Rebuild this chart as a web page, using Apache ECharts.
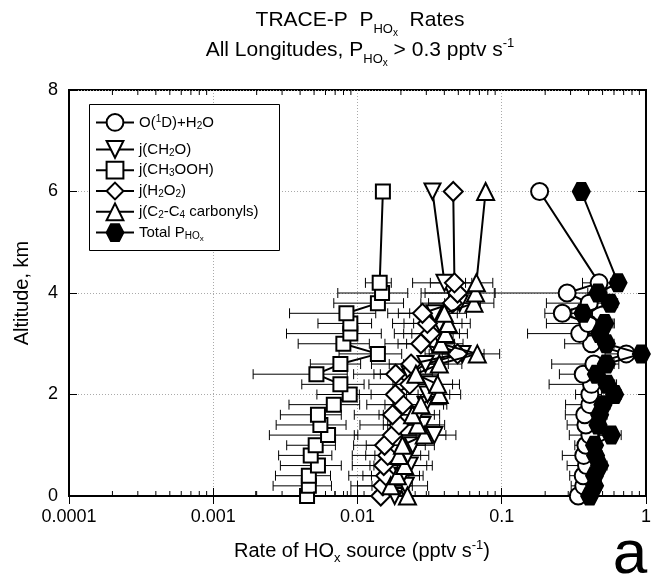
<!DOCTYPE html>
<html><head><meta charset="utf-8">
<script src="https://cdn.jsdelivr.net/npm/echarts@6/dist/echarts.min.js"></script>
<style>html,body{margin:0;padding:0;background:#fff}#c{width:654px;height:574px}</style>
</head><body><div id="c"></div>
<script>
// ---- data (altitude in km, rates in pptv/s) ----
const altitudes = [0,0.2,0.4,0.6,0.8,1.0,1.2,1.4,1.6,1.8,2.0,2.2,2.4,2.6,2.8,3.0,3.2,3.4,3.6,3.8,4.0,4.2,6];
const o1dH2O   = [0.339,0.370,0.367,0.387,0.370,0.383,0.408,0.383,0.376,0.408,0.408,0.419,0.367,0.435,0.730,0.419,0.347,0.397,0.263,0.404,0.284,0.473,0.183];
const o1dH2OSd = [0.050,0.067,0.071,0.103,0.107,0.062,0.114,0.099,0.100,0.131,0.083,0.206,0.116,0.213,0.210,0.146,0.196,0.193,0.064,0.200,0.194,0.110,0];
const jCH2O    = [0.0181,0.0216,0.0205,0.0230,0.0222,0.0241,0.0341,0.0282,0.0261,0.0296,0.0306,0.0316,0.0230,0.0296,0.0534,0.0331,0.0359,0.0370,0.0342,0.0511,0.0456,0.0401,0.0331];
const jCH2OSd  = [0.007,0.009,0.008,0.010,0.009,0.010,0.014,0.012,0.011,0.012,0.013,0.014,0.010,0.013,0.022,0.014,0.015,0.016,0.015,0.020,0.018,0.016,0];
const jCH3OOH  = [0.00447,0.00460,0.00460,0.00532,0.00474,0.00513,0.00625,0.00553,0.00532,0.00685,0.00883,0.00761,0.00519,0.00761,0.01385,0.00798,0.00892,0.00892,0.00838,0.01385,0.0148,0.01425,0.0150];
const jCH3OOHSd= [0.0025,0.0020,0.0019,0.0024,0.0019,0.0019,0.0038,0.0028,0.0024,0.0035,0.0036,0.0035,0.0033,0.0029,0.0064,0.0041,0.0057,0.0036,0.0050,0.0070,0.0075,0.0029,0];
const jH2O2    = [0.0145,0.0150,0.0157,0.0152,0.0162,0.0154,0.0175,0.0194,0.0175,0.0206,0.0183,0.0230,0.0184,0.0235,0.0494,0.0275,0.0320,0.0305,0.0282,0.0455,0.0494,0.0470,0.0461];
const jH2O2Sd  = [0.006,0.006,0.007,0.006,0.007,0.006,0.008,0.009,0.008,0.009,0.008,0.011,0.009,0.011,0.020,0.012,0.014,0.013,0.012,0.018,0.020,0.015,0];
const jCarb    = [0.0222,0.0170,0.0189,0.0212,0.0194,0.0205,0.0290,0.0261,0.0241,0.0275,0.0369,0.0359,0.0254,0.0369,0.0677,0.0379,0.0408,0.0425,0.0400,0.0642,0.0658,0.0667,0.0773];
const jCarbSd  = [0.009,0.007,0.008,0.009,0.008,0.009,0.012,0.011,0.010,0.012,0.015,0.015,0.011,0.016,0.029,0.016,0.017,0.018,0.017,0.024,0.023,0.020,0];
const totalP   = [0.407,0.440,0.440,0.477,0.447,0.440,0.575,0.465,0.477,0.503,0.606,0.537,0.453,0.531,0.928,0.531,0.477,0.517,0.366,0.566,0.465,0.640,0.356];
const totalPSd = [0.05,0.05,0.05,0.06,0.05,0.05,0.098,0.06,0.06,0.06,0.07,0.07,0.06,0.07,0.08,0.07,0.07,0.086,0.06,0.07,0.07,0.07,0];
const xTickLabels = ['0.0001','0.001','0.01','0.1','1'];
const yTickLabels = ['0','2','4','6','8'];

const FONT = "'Liberation Sans', Arial, Helvetica, sans-serif";
const chart = echarts.init(document.getElementById('c'), null, {renderer:'canvas'});

const HEX = 'path://M0,5 L2.6,0 L7.4,0 L10,5 L7.4,10 L2.6,10 Z';
const DIAM = 'path://M5,0 L10,5 L5,10 L0,5 Z';
const DOWN = 'path://M0,0 L10,0 L5,9 Z';
const UP = 'path://M5,0 L10,9 L0,9 Z';

const defs = [
  {name:'o1d', vals:o1dH2O, sd:o1dH2OSd, symbol:'circle', size:17, fill:'#fff',
   label:'O({sup|1}D)+H{sub|2}O'},
  {name:'ch2o', vals:jCH2O, sd:jCH2OSd, symbol:DOWN, size:16, fill:'#fff',
   label:'j(CH{sub|2}O)'},
  {name:'ch3ooh', vals:jCH3OOH, sd:jCH3OOHSd, symbol:'rect', size:14, fill:'#fff',
   label:'j(CH{sub|3}OOH)'},
  {name:'h2o2', vals:jH2O2, sd:jH2O2Sd, symbol:DIAM, size:19, fill:'#fff',
   label:'j(H{sub|2}O{sub|2})'},
  {name:'carb', vals:jCarb, sd:jCarbSd, symbol:UP, size:17, fill:'#fff',
   label:'j(C{sub|2}-C{sub|4} carbonyls)'},
  {name:'total', vals:totalP, sd:totalPSd, symbol:HEX, size:17, fill:'#000',
   label:'Total P{sub|HO}{sub2|x}'}
];

const minorTicks = [];
for (let e = -4; e < 0; e++) for (let m = 2; m <= 9; m++) minorTicks.push(m * Math.pow(10, e));

const series = [];
// error bars
defs.forEach((d, k) => {
  const data = [];
  altitudes.forEach((a, i) => {
    if (d.sd[i] > 0) data.push([Math.max(d.vals[i] - d.sd[i], 1.01e-4), Math.min(d.vals[i] + d.sd[i], 1), a]);
  });
  series.push({
    type:'custom', z:1, silent:true, clip:true,
    encode:{x:[0,1], y:2},
    data,
    renderItem:(params, api) => {
      const p1 = api.coord([api.value(0), api.value(2)]);
      const p2 = api.coord([api.value(1), api.value(2)]);
      const h = 5;
      const st = {stroke:'#000', lineWidth:1};
      return {type:'group', children:[
        {type:'line', shape:{x1:p1[0], y1:p1[1], x2:p2[0], y2:p2[1]}, style:st},
        {type:'line', shape:{x1:p1[0], y1:p1[1]-h, x2:p1[0], y2:p1[1]+h}, style:st},
        {type:'line', shape:{x1:p2[0], y1:p2[1]-h, x2:p2[0], y2:p2[1]+h}, style:st}
      ]};
    }
  });
});
// profiles
defs.forEach((d, k) => {
  series.push({
    name:d.name, type:'line', z:3 + k,
    data: altitudes.map((a, i) => [d.vals[i], a]),
    symbol:d.symbol, symbolSize:d.size, showSymbol:true,
    lineStyle:{color:'#000', width:2},
    itemStyle:{color:d.fill, borderColor:'#000', borderWidth:2},
    emphasis:{disabled:true}, animation:false
  });
});
// log minor ticks (bottom and top)
series.push({
  type:'custom', z:10, silent:true,
  data: minorTicks.map(v => [v, 0]),
  encode:{x:0, y:1},
  renderItem:(params, api) => {
    const b = api.coord([api.value(0), 0]);
    const t = api.coord([api.value(0), 8]);
    const st = {stroke:'#000', lineWidth:1};
    return {type:'group', children:[
      {type:'line', shape:{x1:b[0], y1:b[1], x2:b[0], y2:b[1]-5}, style:st},
      {type:'line', shape:{x1:t[0], y1:t[1], x2:t[0], y2:t[1]+5}, style:st}
    ]};
  }
});

const labelMap = {};
defs.forEach(d => labelMap[d.name] = d.label);

const subTok = (fs, pad) => ({fontSize:fs, fontFamily:FONT, fill:'#000', padding:pad});
const legendText = {fontSize:15, fontFamily:FONT, color:'#000',
  rich:{ sub:{fontSize:10, fontFamily:FONT, padding:[7,0,0,0]},
         sub2:{fontSize:8, fontFamily:FONT, padding:[12,0,0,0]},
         sup:{fontSize:10, fontFamily:FONT, padding:[0,0,7,0]} }};
const legendBase = {orient:'vertical', left:95, padding:0, itemWidth:38, itemHeight:21,
  z:6, selectedMode:false, formatter:n => labelMap[n], textStyle:legendText};

const option = {
  animation:false,
  backgroundColor:'#fff',
  textStyle:{fontFamily:FONT},
  grid:{left:69, right:4, top:90, bottom:78, show:true, borderColor:'#000', borderWidth:2},
  xAxis:[{
    type:'log', logBase:10, min:0.0001, max:1,
    axisLine:{lineStyle:{color:'#000', width:2}},
    axisTick:{inside:true, length:8, lineStyle:{color:'#000', width:1}},
    axisLabel:{color:'#000', fontSize:18, fontFamily:FONT, margin:12,
      formatter:v => xTickLabels[Math.round(Math.log10(v)) + 4]},
    splitLine:{show:true, lineStyle:{color:'#aaa', type:[1,2], width:1}}
  },{
    type:'log', logBase:10, min:0.0001, max:1, position:'top',
    axisLine:{lineStyle:{color:'#000', width:2}},
    axisTick:{inside:true, length:8, lineStyle:{color:'#000', width:1}},
    axisLabel:{show:false}, splitLine:{show:false}
  }],
  yAxis:[{
    type:'value', min:0, max:8, interval:2,
    axisLine:{show:true, lineStyle:{color:'#000', width:2}},
    axisTick:{show:true, inside:true, length:8, lineStyle:{color:'#000', width:1}},
    axisLabel:{color:'#000', fontSize:18, fontFamily:FONT, margin:11,
      formatter:v => yTickLabels[Math.round(v / 2)]},
    splitLine:{show:true, lineStyle:{color:'#aaa', type:[1,2], width:1}}
  },{
    type:'value', min:0, max:8, interval:2, position:'right',
    axisLine:{show:true, lineStyle:{color:'#000', width:2}},
    axisTick:{show:true, inside:true, length:8, lineStyle:{color:'#000', width:1}},
    axisLabel:{show:false}, splitLine:{show:false}
  }],
  legend:[
    Object.assign({}, legendBase, {top:113, itemGap:2, data:['o1d']}),
    Object.assign({}, legendBase, {top:140, itemGap:2, data:['ch2o','ch3ooh','h2o2','carb','total']})
  ],
  graphic:[
    {type:'rect', z:5, shape:{x:89.5, y:104.5, width:190, height:146},
      style:{fill:'#fff', stroke:'#000', lineWidth:1}},
    {type:'text', x:360, y:20, style:{
      text:'TRACE-P  P{s1|HO}{s2|x}  Rates', fontSize:21, fontFamily:FONT, fill:'#000',
      align:'center', verticalAlign:'middle',
      rich:{s1:subTok(13,[18,0,0,0]), s2:subTok(10,[26,0,0,0])}}},
    {type:'text', x:360, y:50, style:{
      text:'All Longitudes, P{s1|HO}{s2|x} > 0.3 pptv s{sp|-1}', fontSize:21, fontFamily:FONT, fill:'#000',
      align:'center', verticalAlign:'middle',
      rich:{s1:subTok(13,[18,0,0,0]), s2:subTok(10,[26,0,0,0]), sp:subTok(13,[0,0,14,0])}}},
    {type:'text', x:362, y:551, style:{
      text:'Rate of HO{s1|x} source (pptv s{sp|-1})', fontSize:20, fontFamily:FONT, fill:'#000',
      align:'center', verticalAlign:'middle',
      rich:{s1:subTok(13,[14,0,0,0]), sp:subTok(13,[0,0,12,0])}}},
    {type:'text', x:22, y:293, rotation:Math.PI/2, style:{
      text:'Altitude, km', fontSize:20, fontFamily:FONT, fill:'#000',
      align:'center', verticalAlign:'middle'}},
    {type:'text', x:630, y:556, style:{
      text:'a', fontSize:62, fontFamily:FONT, fill:'#000',
      align:'center', verticalAlign:'middle'}}
  ],
  series
};
chart.setOption(option);
</script>
</body></html>
